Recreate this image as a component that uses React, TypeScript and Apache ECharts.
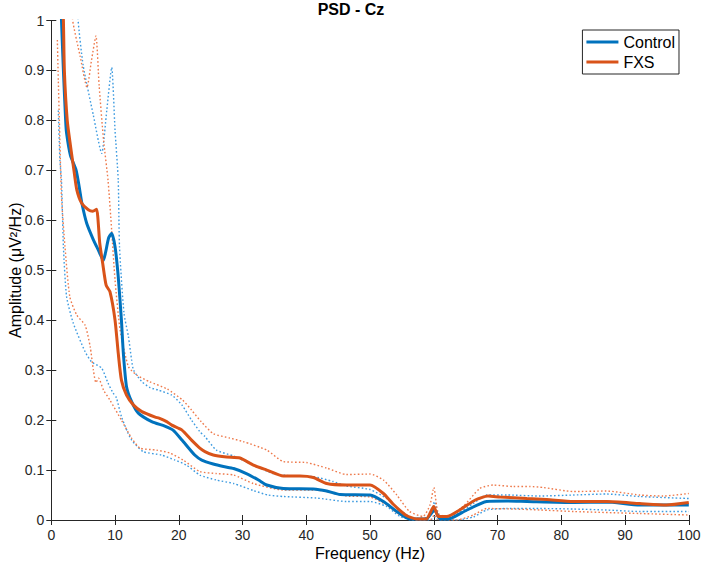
import React, { useEffect, useRef } from "react";
import * as echarts from "echarts";

// [frequency (Hz), amplitude] pairs
const controlMean: [number, number][] = [
  [1.4, 1.08], [1.6, 1.0], [1.9, 0.9], [2.25, 0.8], [2.4, 0.774], [3.0, 0.73], [3.9, 0.7],
  [4.4, 0.665], [4.8, 0.634], [5.55, 0.594], [6.6, 0.561], [7.4, 0.54], [8.16, 0.52],
  [8.5, 0.535], [9.0, 0.565], [9.47, 0.574], [10.0, 0.547], [10.5, 0.487], [11.0, 0.4],
  [11.3, 0.334], [11.8, 0.267], [12.6, 0.237], [13.65, 0.214], [15.75, 0.197], [17.8, 0.188],
  [19.1, 0.18], [20.5, 0.16], [22.5, 0.13], [23.6, 0.12], [25.4, 0.112], [27, 0.107],
  [28.6, 0.103], [30.6, 0.093], [32.5, 0.08], [33.8, 0.07], [36.4, 0.063], [41.1, 0.062],
  [43.2, 0.058], [45.3, 0.051], [50, 0.05], [52.1, 0.037], [54.2, 0.017], [56.2, 0.002],
  [58.8, 0.002], [60.1, 0.02], [61, 0.002], [62.6, 0.003], [65.2, 0.02], [68.3, 0.037],
  [71.5, 0.038], [74.6, 0.037], [81.9, 0.035], [87.1, 0.036], [92.3, 0.03], [100, 0.03],
];

const fxsMean: [number, number][] = [
  [1.7, 1.05], [1.9, 1.0], [2.05, 0.9], [2.5, 0.8], [3.0, 0.75], [3.55, 0.7], [4.0, 0.661],
  [4.77, 0.634], [5.8, 0.621], [6.5, 0.618], [7.1, 0.622], [7.6, 0.554], [8.06, 0.514],
  [8.6, 0.47], [9.2, 0.457], [10.0, 0.4], [10.5, 0.334], [11.0, 0.28], [11.8, 0.25],
  [12.9, 0.23], [14.2, 0.217], [16.3, 0.206], [16.9, 0.204], [18.1, 0.197], [18.9, 0.19],
  [20.5, 0.18], [22, 0.16], [23.3, 0.144], [24.1, 0.137], [25.4, 0.13], [27.5, 0.126],
  [29.6, 0.124], [31.7, 0.11], [33.8, 0.1], [36.4, 0.088], [39, 0.088], [41.1, 0.085],
  [43.2, 0.073], [46.3, 0.07], [50, 0.07], [52.1, 0.053], [53.6, 0.032], [55.7, 0.009],
  [57.3, 0.002], [58.8, 0.002], [60.0, 0.027], [60.7, 0.007], [62.0, 0.007], [64.3, 0.022],
  [66.5, 0.04], [68.5, 0.048], [70.4, 0.046], [74.6, 0.043], [77.7, 0.041], [81.9, 0.037],
  [87.1, 0.037], [92.3, 0.033], [96.5, 0.03], [100, 0.035],
];

const controlUpper: [number, number][] = [
  [4.0, 1.05], [4.2, 1.0], [5.0, 0.91], [6.6, 0.81], [7.9, 0.734], [8.7, 0.82], [9.47, 0.906],
  [10.0, 0.78], [10.5, 0.68], [10.7, 0.547], [11.4, 0.414], [12.1, 0.367], [12.6, 0.32],
  [12.9, 0.3], [14.2, 0.277], [15.5, 0.265], [16.8, 0.26], [18.9, 0.25], [20.5, 0.23],
  [22, 0.2], [23.3, 0.177], [24.1, 0.167], [25.9, 0.14], [28.6, 0.128], [31.7, 0.11],
  [34.8, 0.093], [38, 0.088], [41.1, 0.087], [44.2, 0.077], [46.3, 0.068], [50, 0.061],
  [52.6, 0.043], [54.7, 0.02], [56.8, 0.003], [59.4, 0.007], [60.1, 0.037], [61, 0.003],
  [63.6, 0.013], [66.2, 0.033], [68.3, 0.05], [71.5, 0.05], [76.7, 0.048], [81.9, 0.05],
  [87.1, 0.052], [92.3, 0.047], [100, 0.043],
];

const controlLower: [number, number][] = [
  [1.1, 0.82], [1.35, 0.72], [1.6, 0.68], [1.9, 0.547], [2.4, 0.447], [3.45, 0.394],
  [5.3, 0.337], [6.3, 0.317], [7.9, 0.304], [8.9, 0.274], [9.7, 0.254], [10.2, 0.245],
  [11.0, 0.207], [12.0, 0.175], [12.6, 0.16], [14.4, 0.137], [17.3, 0.13], [19.4, 0.12],
  [21.2, 0.11], [23.3, 0.09], [25.9, 0.08], [28.6, 0.073], [31.7, 0.059], [34, 0.05],
  [36.4, 0.047], [41.6, 0.044], [46.3, 0.037], [50, 0.037], [52.6, 0.027], [54.7, 0.007],
  [56.8, 0.0], [59.5, 0.0], [60.1, 0.007], [60.7, 0.0], [63.6, 0.0], [66.2, 0.006],
  [68.3, 0.02], [71.5, 0.023], [76.7, 0.023], [81.9, 0.022], [87.1, 0.02], [92.3, 0.017],
  [100, 0.017],
];

const fxsUpper: [number, number][] = [
  [3.2, 1.05], [3.35, 1.0], [4.5, 0.93], [5.6, 0.866], [6.3, 0.92], [7.0, 0.969], [7.5, 0.87],
  [8.2, 0.76], [8.9, 0.68], [9.47, 0.58], [10.0, 0.48], [10.8, 0.38], [12.1, 0.307],
  [13.4, 0.29], [15.4, 0.277], [18.2, 0.262], [20.6, 0.24], [22, 0.22], [23.5, 0.197],
  [25.4, 0.173], [28, 0.164], [30.1, 0.157], [33.8, 0.14], [36.4, 0.117], [40, 0.115],
  [43.2, 0.104], [46.3, 0.091], [50, 0.092], [52.1, 0.08], [54.2, 0.05], [56.2, 0.017],
  [58.3, 0.007], [59.4, 0.03], [60.0, 0.065], [60.7, 0.013], [62, 0.007], [64.6, 0.027],
  [67.2, 0.063], [69.3, 0.07], [72.5, 0.067], [75.1, 0.067], [77.2, 0.065], [81.9, 0.057],
  [87.1, 0.058], [92.3, 0.05], [96, 0.048], [100, 0.053],
];

const fxsLower: [number, number][] = [
  [0.95, 0.961], [1.1, 0.88], [1.25, 0.807], [1.6, 0.647], [2.15, 0.547], [2.9, 0.447],
  [4.0, 0.41], [5.3, 0.39], [6.1, 0.347], [6.6, 0.3], [7.0, 0.275], [7.4, 0.284], [8.2, 0.26],
  [9.2, 0.24], [11, 0.2], [12.6, 0.164], [13.9, 0.144], [16.5, 0.14], [18.6, 0.134],
  [20.7, 0.12], [23.3, 0.097], [25.9, 0.093], [28.6, 0.09], [31.7, 0.073], [36.4, 0.06],
  [41.6, 0.06], [46.3, 0.048], [50, 0.046], [52.6, 0.03], [54.7, 0.01], [56.8, 0.001],
  [59.5, 0.001], [60.1, 0.01], [60.7, 0.001], [63.6, 0.0], [66.2, 0.01], [68.3, 0.023],
  [72.5, 0.022], [76.7, 0.02], [81.9, 0.017], [92.3, 0.013], [100, 0.01],
];

const legendNames = ["Control", "FXS"];
const chartTitle = "PSD - Cz";
const xName = "Frequency (Hz)";
const yName = "Amplitude (\u03bcV\u00b2/Hz)";

const BLUE = "#0072BD";
const RED = "#D95319";
const BLUE_DOT = "#3d9be0";
const RED_DOT = "#ee7a4c";
const AXIS = "#262626";
const FONT = "'Liberation Sans', Arial, Helvetica, sans-serif";

export default function App() {
  const ref = useRef<HTMLDivElement>(null);
  useEffect(() => {
    if (!ref.current) return;
    const chart = echarts.init(ref.current, undefined, { renderer: "svg" });
    const dotted = (name: string, data: [number, number][], color: string) => ({
      name,
      type: "line",
      data,
      showSymbol: false,
      smooth: 0.2,
      clip: true,
      lineStyle: { color, width: 1.4, type: [1.6, 2.2] },
      itemStyle: { color },
      z: 2,
    });
    const solid = (name: string, data: [number, number][], color: string, z: number) => ({
      name,
      type: "line",
      data,
      showSymbol: false,
      smooth: 0.2,
      clip: true,
      color,
      lineStyle: { color, width: 3 },
      itemStyle: { color },
      z,
    });
    const axisCommon = {
      axisLine: { show: true, lineStyle: { color: AXIS, width: 1 } },
      axisTick: { show: true, inside: true, length: 5, lineStyle: { color: AXIS, width: 1 } },
      splitLine: { show: false },
    };
    chart.setOption({
      animation: false,
      backgroundColor: "#fff",
      textStyle: { fontFamily: FONT },
      title: {
        text: chartTitle,
        left: "center",
        top: 1,
        padding: 0,
        textStyle: { fontSize: 16, fontWeight: "bold", color: "#000", fontFamily: FONT },
      },
      legend: {
        data: legendNames,
        orient: "vertical",
        right: 23,
        top: 30,
        icon: "rect",
        itemWidth: 32,
        itemHeight: 3,
        itemGap: 4,
        padding: [4, 4, 4, 4],
        borderColor: AXIS,
        borderWidth: 1,
        backgroundColor: "#fff",
        textStyle: { fontSize: 16, color: "#000", fontFamily: FONT },
      },
      grid: {
        left: 51.3,
        right: 13.2,
        top: 20.5,
        bottom: 47,
        containLabel: false,
        outerBoundsMode: "none",
      },
      xAxis: [
        {
          type: "value",
          min: 0,
          max: 100,
          interval: 10,
          position: "bottom",
          name: xName,
          nameLocation: "middle",
          nameGap: 25,
          nameMoveOverlap: false,
          nameTextStyle: { fontSize: 16, color: "#000", fontFamily: FONT },
          axisLabel: { show: true, fontSize: 14, color: AXIS, margin: 8, fontFamily: FONT },
          ...axisCommon,
        },
        {
          type: "value",
          min: 0,
          max: 100,
          interval: 10,
          position: "top",
          axisLabel: { show: false },
          ...axisCommon,
        },
      ],
      yAxis: [
        {
          type: "value",
          min: 0,
          max: 1,
          interval: 0.1,
          position: "left",
          name: yName,
          nameLocation: "middle",
          nameGap: 28,
          nameMoveOverlap: false,
          nameTextStyle: { fontSize: 16, color: "#000", fontFamily: FONT },
          axisLabel: { show: true, fontSize: 14, color: AXIS, margin: 7, fontFamily: FONT },
          ...axisCommon,
        },
        {
          type: "value",
          min: 0,
          max: 1,
          interval: 0.1,
          position: "right",
          axisLabel: { show: false },
          ...axisCommon,
        },
      ],
      series: [
        dotted("Control upper", controlUpper, BLUE_DOT),
        dotted("Control lower", controlLower, BLUE_DOT),
        dotted("FXS upper", fxsUpper, RED_DOT),
        dotted("FXS lower", fxsLower, RED_DOT),
        solid(legendNames[0], controlMean, BLUE, 3),
        solid(legendNames[1], fxsMean, RED, 4),
      ],
    });
    return () => chart.dispose();
  }, []);
  return (
    <div
      ref={ref}
      style={{ position: "fixed", left: 0, top: 0, width: 702, height: 567, background: "#fff" }}
    />
  );
}
